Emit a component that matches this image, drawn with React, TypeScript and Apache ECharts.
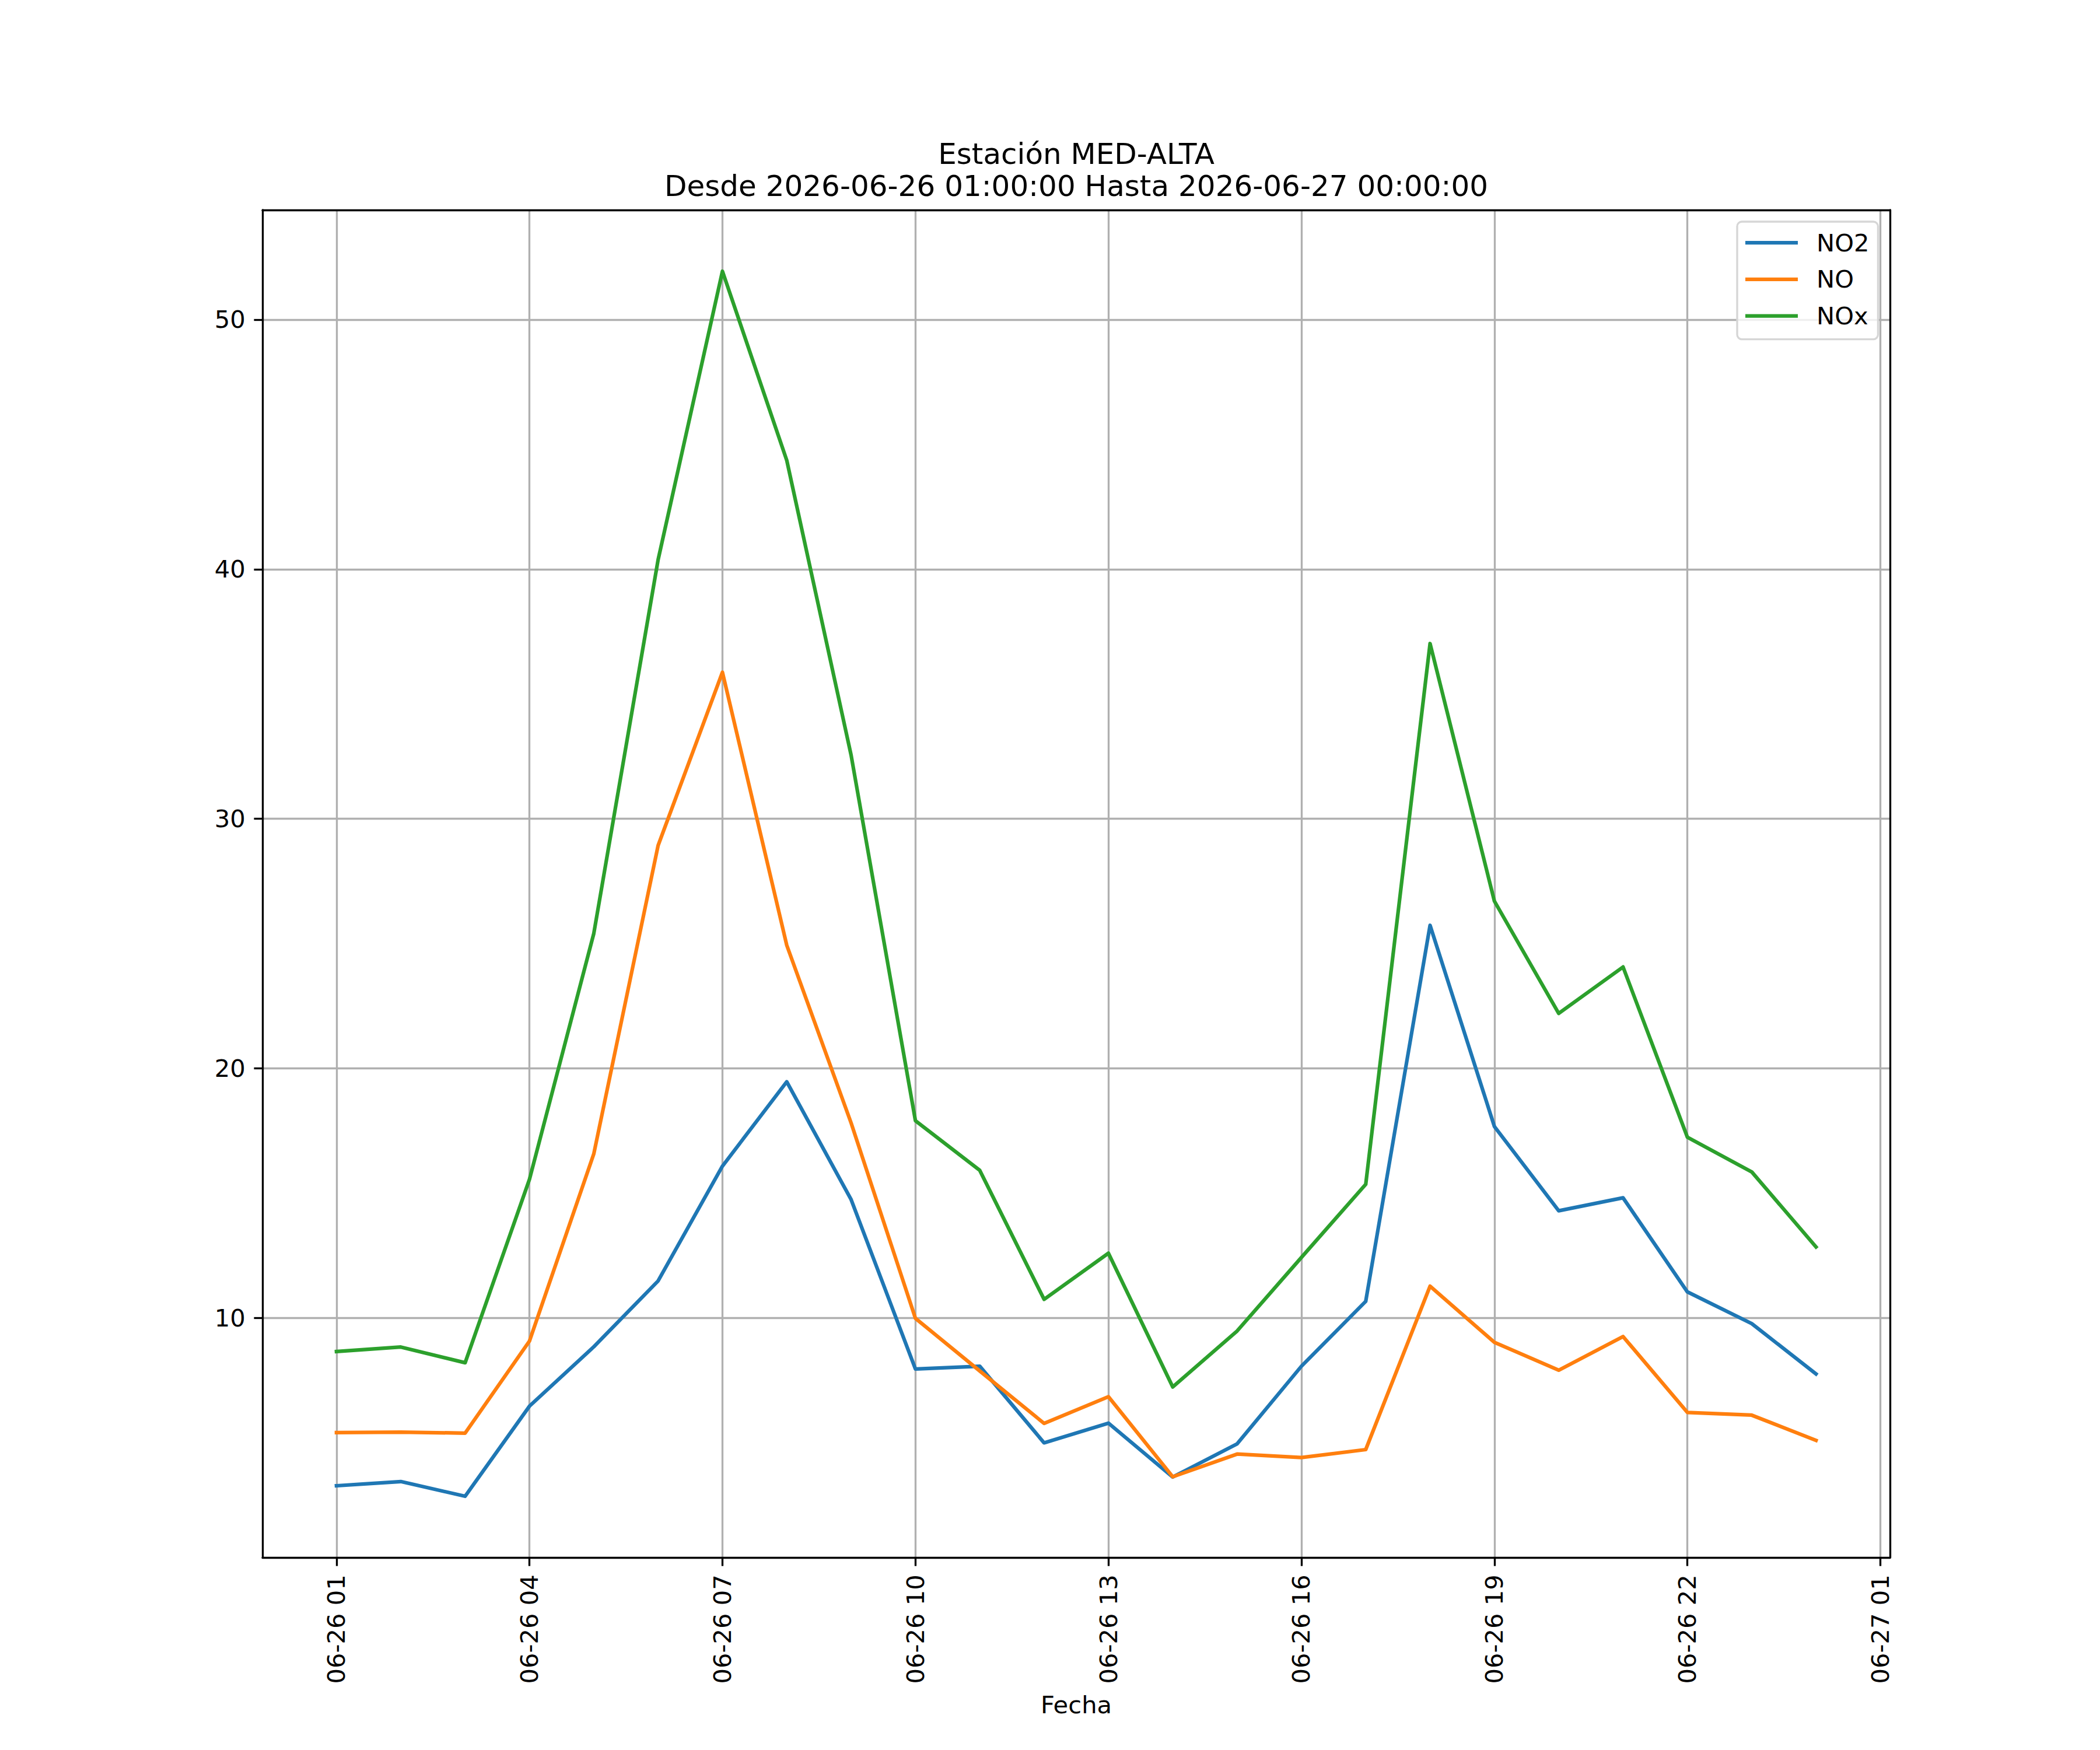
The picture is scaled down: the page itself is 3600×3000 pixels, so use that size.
import React, { useEffect, useRef } from "react";
import * as echarts from "echarts";

// Hours counted from 2026-06-26 00:00
const hours = [1, 2, 3, 4, 5, 6, 7, 8, 9, 10, 11, 12, 13, 14, 15, 16, 17, 18, 19, 20, 21, 22, 23, 24];
const no2Values = [3.27, 3.44, 2.85, 6.46, 8.84, 11.48, 16.08, 19.46, 14.74, 7.95, 8.06, 4.99, 5.78, 3.62, 4.95, 8.06, 10.66, 25.73, 17.67, 14.29, 14.81, 11.04, 9.77, 7.75];
const noValues = [5.4, 5.42, 5.38, 9.07, 16.57, 28.93, 35.87, 24.93, 17.81, 9.98, 7.87, 5.77, 6.84, 3.63, 4.54, 4.4, 4.72, 11.27, 9.02, 7.9, 9.25, 6.21, 6.1, 5.09];
const noxValues = [8.65, 8.83, 8.2, 15.55, 25.4, 40.38, 51.94, 44.36, 32.55, 17.9, 15.91, 10.74, 12.59, 7.23, 9.47, 12.42, 15.35, 37.02, 26.7, 22.2, 24.06, 17.24, 15.85, 12.84];

const seriesNames = ["NO2", "NO", "NOx"];
const seriesColors = ["#1f77b4", "#ff7f0e", "#2ca02c"];

const xTickHours = [1, 4, 7, 10, 13, 16, 19, 22, 25];
const xTickLabels = ["06-26 01", "06-26 04", "06-26 07", "06-26 10", "06-26 13", "06-26 16", "06-26 19", "06-26 22", "06-27 01"];
const yTicks = [10, 20, 30, 40, 50];

const titleLines = ["Estación MED-ALTA", "Desde 2026-06-26 01:00:00 Hasta 2026-06-27 00:00:00"];
const xAxisName = "Fecha";

const PT = 300 / 72;
const FONT = "DejaVu Sans";

export default function App() {
  const ref = useRef<HTMLDivElement>(null);

  useEffect(() => {
    document.body.style.margin = "0";
    if (!ref.current) return;
    const chart = echarts.init(ref.current, null, { renderer: "svg" });

    const allValues = [...no2Values, ...noValues, ...noxValues];
    const dMin = Math.min(...allValues);
    const dMax = Math.max(...allValues);
    const yMargin = (dMax - dMin) * 0.05;
    const xMinD = Math.min(...hours);
    const xMaxD = Math.max(...hours);
    const xMargin = (xMaxD - xMinD) * 0.05;

    const xMin = xMinD - xMargin;
    const xMax = xMaxD + xMargin;
    const yMin = dMin - yMargin;
    const yMax = dMax + yMargin;

    const lw = 0.8 * PT;
    const tickLen = 3.5 * PT;
    const fontSize = 10 * PT;

    const valueSets = [no2Values, noValues, noxValues];

    chart.setOption({
      animation: false,
      backgroundColor: "#ffffff",
      textStyle: { fontFamily: FONT },
      title: {
        text: titleLines.join("\n"),
        left: 1845,
        top: 236,
        textAlign: "center",
        padding: 0,
        textStyle: {
          fontFamily: FONT,
          fontSize: 12 * PT,
          fontWeight: "normal",
          color: "#000000",
          lineHeight: 55,
        },
      },
      legend: {
        data: seriesNames,
        orient: "vertical",
        left: 2978,
        top: 380,
        icon: "rect",
        itemWidth: 90,
        itemHeight: 1.5 * PT,
        itemGap: 20.8,
        padding: [15, 15, 19, 14],
        backgroundColor: "rgba(255,255,255,0.8)",
        borderColor: "#d6d6d6",
        borderWidth: lw,
        borderRadius: 8,
        textStyle: {
          fontFamily: FONT,
          fontSize: fontSize,
          color: "#000000",
          lineHeight: 42,
          padding: [0, 0, 0, 27],
        },
      },
      grid: {
        left: 450,
        top: 360,
        width: 2790,
        height: 2310,
        containLabel: false,
        show: false,
      },
      xAxis: [
        {
          type: "value",
          position: "bottom",
          min: xMin,
          max: xMax,
          name: xAxisName,
          nameLocation: "middle",
          nameGap: 231,
          nameTextStyle: { fontFamily: FONT, fontSize: fontSize, color: "#000000" },
          axisLine: { show: true, onZero: false, lineStyle: { color: "#000000", width: lw } },
          axisTick: {
            show: true,
            length: tickLen,
            lineStyle: { color: "#000000", width: lw },
            customValues: xTickHours,
          },
          axisLabel: {
            show: true,
            rotate: 90,
            margin: 2 * tickLen,
            fontFamily: FONT,
            fontSize: fontSize,
            color: "#000000",
            customValues: xTickHours,
            formatter: (v: number) => {
              const i = xTickHours.indexOf(Math.round(v));
              return i >= 0 ? xTickLabels[i] : "";
            },
          },
          splitLine: { show: true, lineStyle: { color: "#b0b0b0", width: lw } },
        },
        {
          type: "value",
          position: "top",
          min: xMin,
          max: xMax,
          axisLine: { show: true, onZero: false, lineStyle: { color: "#000000", width: lw } },
          axisTick: { show: false },
          axisLabel: { show: false },
          splitLine: { show: false },
        },
      ],
      yAxis: [
        {
          type: "value",
          position: "left",
          min: yMin,
          max: yMax,
          axisLine: { show: true, onZero: false, lineStyle: { color: "#000000", width: lw } },
          axisTick: {
            show: true,
            length: tickLen,
            lineStyle: { color: "#000000", width: lw },
            customValues: yTicks,
          },
          axisLabel: {
            show: true,
            margin: 2 * tickLen,
            fontFamily: FONT,
            fontSize: fontSize,
            color: "#000000",
            customValues: yTicks,
            formatter: (v: number) => String(Math.round(v)),
          },
          splitLine: { show: true, lineStyle: { color: "#b0b0b0", width: lw } },
        },
        {
          type: "value",
          position: "right",
          min: yMin,
          max: yMax,
          axisLine: { show: true, onZero: false, lineStyle: { color: "#000000", width: lw } },
          axisTick: { show: false },
          axisLabel: { show: false },
          splitLine: { show: false },
        },
      ],
      series: seriesNames.map((name, si) => ({
        name,
        type: "line",
        xAxisIndex: 0,
        yAxisIndex: 0,
        showSymbol: false,
        symbol: "none",
        color: seriesColors[si],
        lineStyle: { color: seriesColors[si], width: 1.5 * PT, join: "round", cap: "square" },
        emphasis: { disabled: true },
        data: hours.map((h, i) => [h, valueSets[si][i]]),
      })),
    });

    return () => {
      chart.dispose();
    };
  }, []);

  return <div ref={ref} style={{ width: 3600, height: 3000 }} />;
}
